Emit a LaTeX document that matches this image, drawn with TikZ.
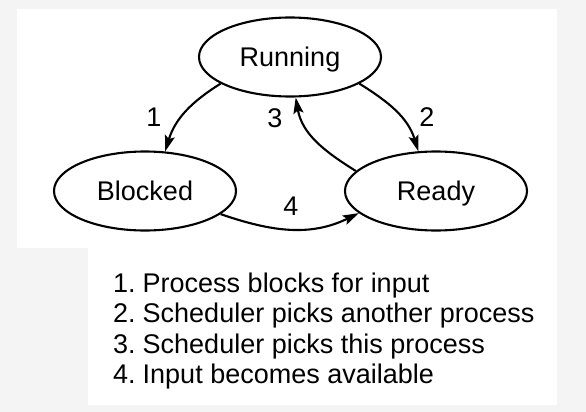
\documentclass[tikz,border=0pt]{standalone}
\usepackage{fontspec}
\setmainfont{Liberation Sans}
\usetikzlibrary{arrows.meta,shapes.geometric}
\definecolor{bggray}{HTML}{F4F4F4}
\newcommand{\numgap}{\hspace{-3pt} }
\begin{document}
\begin{tikzpicture}[x=1pt,y=-1pt,
  font=\fontsize{27}{30}\selectfont,
  state/.style={ellipse,draw,line width=2.1pt,minimum width=182pt,minimum height=79pt,inner sep=0pt,text height=19pt,text depth=0pt},
  trans/.style={line width=2.1pt,-{Stealth[length=16pt,width=10pt,inset=3pt]}},
  num/.style={inner sep=0pt,text height=19pt,text depth=0pt},
  item/.style={anchor=base west,inner sep=0pt}]
\useasboundingbox (0,0) rectangle (586,412);
\fill[bggray] (0,0) rectangle (586,412);
\fill[white] (17,9) rectangle (557,248);
\fill[white] (88,248) rectangle (557,405);
\node[state] (run) at (290,57) {Running};
\node[state] (blk) at (145,191) {Blocked};
\node[state] (rdy) at (436,191) {Ready};
\draw[trans] (run.201) to[out=212,in=73] (blk.63);
\draw[trans] (run.339) to[out=328,in=107] (rdy.114);
\draw[trans] (rdy.166) to[out=148,in=280] (run.278);
\draw[trans] (blk.343) to[out=-19,in=206] (rdy.196);
\node[num] (n1) at (154,117) {1};
\node[num] (n2) at (427,117) {2};
\node[num] (n3) at (275,118) {3};
\node[num] (n4) at (291,206) {4};
\node[item] (l1) at (113,292) {1.\numgap Process blocks for input};
\node[item] (l2) at (113,322.5) {2.\numgap Scheduler picks another process};
\node[item] (l3) at (113,353) {3.\numgap Scheduler picks this process};
\node[item] (l4) at (113,383.5) {4.\numgap Input becomes available};
\end{tikzpicture}
\end{document}
